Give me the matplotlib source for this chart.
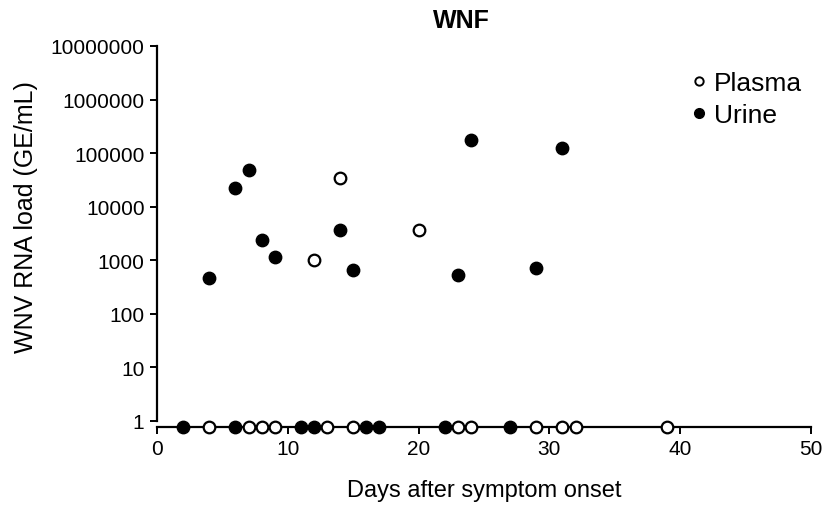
import matplotlib
matplotlib.use('Agg')
import matplotlib.pyplot as plt
from matplotlib.lines import Line2D

plt.rcParams['font.family'] = ['Liberation Sans', 'DejaVu Sans']

# value used to show "not detected" samples on the x-axis line
ND = 0.77

plasma_days = [12, 14, 20,
               4, 7, 8, 9, 13, 15, 23, 24, 29, 31, 32, 39]
plasma_load = [1030, 34000, 3650,
               ND, ND, ND, ND, ND, ND, ND, ND, ND, ND, ND, ND]

urine_days = [4, 6, 7, 8, 9, 14, 15, 23, 24, 29, 31,
              2, 6, 11, 12, 16, 17, 22, 27]
urine_load = [470, 22000, 48000, 2370, 1170, 3650, 670, 540, 174000, 720, 122000,
              ND, ND, ND, ND, ND, ND, ND, ND]

yticks = [1, 10, 100, 1000, 10000, 100000, 1000000, 10000000]

fig = plt.figure(figsize=(8.25, 5.06), dpi=100)
ax = fig.add_axes([157 / 825, 1 - 428 / 506, (811 - 157) / 825, (428 - 47) / 506])

ax.scatter(plasma_days, plasma_load, s=70, facecolors='white',
           edgecolors='black', linewidths=1.6, zorder=3, clip_on=False)
ax.scatter(urine_days, urine_load, s=80, facecolors='black',
           edgecolors='black', linewidths=1, zorder=4, clip_on=False)

ax.set_yscale('log')
ax.set_ylim(ND, 1e7)
ax.set_xlim(0, 50)
ax.set_yticks(yticks)
ax.set_yticklabels([str(v) for v in yticks])
ax.minorticks_off()
ax.set_xticks([0, 10, 20, 30, 40, 50])

for s in ['top', 'right']:
    ax.spines[s].set_visible(False)
ax.spines['left'].set_bounds(1, 1e7)
ax.spines['left'].set_linewidth(1.6)
ax.spines['bottom'].set_linewidth(1.6)
ax.tick_params(axis='both', direction='out', length=5, width=1.4,
               labelsize=15, pad=4)

fig.text(484 / 825, 1 - 491 / 506, 'Days after symptom onset', fontsize=17,
         ha='center', va='center')
fig.text(26 / 825, 1 - 217 / 506, 'WNV RNA load (GE/mL)', fontsize=18,
         rotation=90, ha='center', va='center')
fig.text(461 / 825, 1 - 21 / 506, 'WNF', fontsize=18, fontweight='bold',
         ha='center', va='center')

handles = [Line2D([0], [0], marker='o', linestyle='none', markersize=6,
                  markerfacecolor='white', markeredgecolor='black',
                  markeredgewidth=1.4, label='Plasma'),
           Line2D([0], [0], marker='o', linestyle='none', markersize=7,
                  markerfacecolor='black', markeredgecolor='black',
                  label='Urine')]
ax.legend(handles=handles, loc='upper right', bbox_to_anchor=(1.01, 0.975),
          frameon=False, fontsize=19, handletextpad=0.05,
          handlelength=1.0, labelspacing=0.3, borderaxespad=0.2)

fig.savefig('out.png', dpi=100)
